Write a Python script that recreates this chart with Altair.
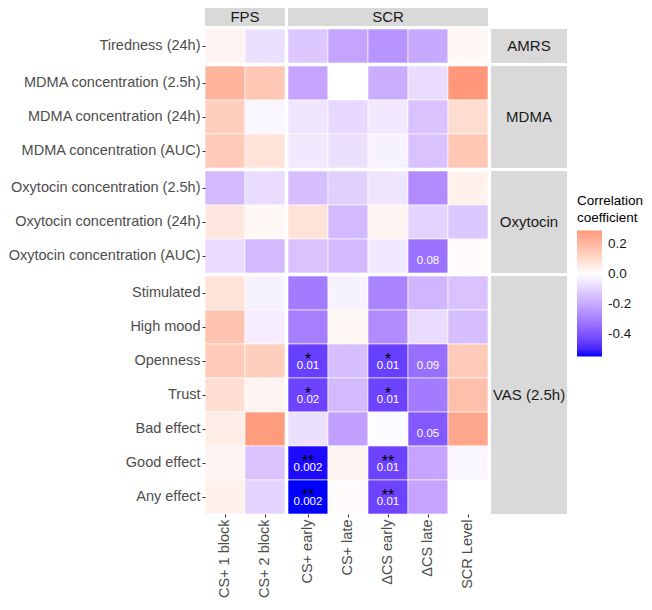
import altair as alt
import pandas as pd

# ---------------- data ----------------
ROW_GROUPS = ["AMRS", "MDMA", "Oxytocin", "VAS (2.5h)"]
AMRS_ROWS = ["Tiredness (24h)"]
MDMA_ROWS = ["MDMA concentration (2.5h)", "MDMA concentration (24h)", "MDMA concentration (AUC)"]
OXY_ROWS = ["Oxytocin concentration (2.5h)", "Oxytocin concentration (24h)", "Oxytocin concentration (AUC)"]
VAS_ROWS = ["Stimulated", "High mood", "Openness", "Trust", "Bad effect", "Good effect", "Any effect"]

COL_GROUPS = ["FPS", "SCR"]
FPS_COLS = ["CS+ 1 block", "CS+ 2 block"]
SCR_COLS = ["CS+ early", "CS+ late", "ΔCS early", "ΔCS late", "SCR Level"]

# values per row, columns in order FPS_COLS + SCR_COLS
AMRS_VALUES = [[0.03, -0.07, -0.13, -0.21, -0.25, -0.20, 0.02]]
MDMA_VALUES = [
    [0.21, 0.16, -0.21, 0.00, -0.19, -0.08, 0.29],
    [0.14, -0.02, -0.06, -0.09, -0.05, -0.14, 0.10],
    [0.15, 0.08, -0.05, -0.07, -0.03, -0.14, 0.16],
]
OXY_VALUES = [
    [-0.16, -0.08, -0.15, -0.11, -0.06, -0.27, 0.04],
    [0.07, 0.02, 0.08, -0.16, 0.03, -0.10, -0.13],
    [-0.08, -0.16, -0.14, -0.16, -0.05, -0.33, 0.01],
]
VAS_VALUES = [
    [0.08, -0.03, -0.31, -0.03, -0.29, -0.17, -0.14],
    [0.17, -0.04, -0.30, 0.02, -0.27, -0.08, -0.15],
    [0.15, 0.14, -0.45, -0.15, -0.45, -0.34, 0.15],
    [0.09, 0.03, -0.44, -0.16, -0.44, -0.31, 0.18],
    [0.05, 0.28, -0.07, -0.22, -0.01, -0.39, 0.25],
    [0.03, -0.14, -0.54, 0.03, -0.44, -0.21, -0.02],
    [0.04, -0.10, -0.55, 0.01, -0.44, -0.21, 0.00],
]

ANN_ROWS = ["Oxytocin concentration (AUC)", "Openness", "Openness", "Openness", "Trust", "Trust",
            "Bad effect", "Good effect", "Good effect", "Any effect", "Any effect"]
ANN_COLS = ["ΔCS late", "CS+ early", "ΔCS early", "ΔCS late", "CS+ early", "ΔCS early",
            "ΔCS late", "CS+ early", "ΔCS early", "CS+ early", "ΔCS early"]
ANN_STARS = ["", "*", "*", "", "*", "*", "", "**", "**", "**", "**"]
ANN_P = ["0.08", "0.01", "0.01", "0.09", "0.02", "0.01", "0.05", "0.002", "0.01", "0.002", "0.01"]

LEGEND_VALUES = [-0.4, -0.2, 0.0, 0.2]

# ---------------- styling ----------------
FONT = "Liberation Sans"
CELL_W = 40
CELL_H = 34
STRIP_W = 76
STRIP_H = 18
GRAY_STRIP = "#D9D9D9"

GROUP_ROWS = [AMRS_ROWS, MDMA_ROWS, OXY_ROWS, VAS_ROWS]
GROUP_VALUES = [AMRS_VALUES, MDMA_VALUES, OXY_VALUES, VAS_VALUES]

color_scale = alt.Scale(domain=[-0.55, 0.0, 0.29], range=["#0000FF", "#FFFFFF", "#FF987A"],
                        interpolate="lab")
color_legend = alt.Legend(
    title=["Correlation", "coefficient"], orient="none", legendX=372, legendY=186,
    gradientLength=126, gradientThickness=25, values=LEGEND_VALUES,
    labelExpr="datum.value < 0 ? '-' + format(-datum.value, '.1f') : format(datum.value, '.1f')",
    titleFont=FONT, titleFontSize=13.5, titleFontWeight="normal", titleColor="#000000",
    titleLineHeight=17, titlePadding=6,
    labelFont=FONT, labelFontSize=13.5, labelColor="#1A1A1A", labelOffset=6,
    gradientStrokeWidth=0,
)

ann_lookup = {(r, c): (s, p) for r, c, s, p in zip(ANN_ROWS, ANN_COLS, ANN_STARS, ANN_P)}


def panel(rows, values, cols, col_offset, show_y, show_x):
    recs = []
    for i, r in enumerate(rows):
        for j, c in enumerate(cols):
            s, p = ann_lookup.get((r, c), ("", ""))
            recs.append({"row": r, "col": c, "value": values[i][col_offset + j], "stars": s, "p": p})
    df = pd.DataFrame(recs)
    if show_x:
        x = alt.X("col:N", sort=cols, title=None, scale=alt.Scale(paddingInner=0, paddingOuter=0),
                  axis=alt.Axis(labelAngle=-90))
    else:
        x = alt.X("col:N", sort=cols, title=None, scale=alt.Scale(paddingInner=0, paddingOuter=0),
                  axis=None)
    if show_y:
        y = alt.Y("row:N", sort=rows, title=None, scale=alt.Scale(paddingInner=0, paddingOuter=0),
                  axis=alt.Axis())
    else:
        y = alt.Y("row:N", sort=rows, title=None, scale=alt.Scale(paddingInner=0, paddingOuter=0),
                  axis=None)
    base = alt.Chart(df).encode(x=x, y=y)
    rect = base.mark_rect(stroke="white", strokeWidth=0.6).encode(
        color=alt.Color("value:Q", scale=color_scale, legend=color_legend)
    )
    stars = base.mark_text(font=FONT, fontSize=16, color="#000000", dy=-1).encode(text="stars:N")
    pvals = base.mark_text(font=FONT, fontSize=11.5, color="#FFFFFF", dy=5).encode(text="p:N")
    return alt.layer(rect, stars, pvals).properties(width=CELL_W * len(cols), height=CELL_H * len(rows))


def strip(label, width, height):
    df = pd.DataFrame({"label": [label]})
    bg = alt.Chart(df).mark_rect(color=GRAY_STRIP).encode(
        x=alt.value(0), x2=alt.value(width), y=alt.value(0), y2=alt.value(height)
    )
    txt = alt.Chart(df).mark_text(font=FONT, fontSize=15, color="#1A1A1A").encode(
        text="label:N", x=alt.value(width / 2), y=alt.value(height / 2)
    )
    return alt.layer(bg, txt).properties(width=width, height=height)


def blank(width, height):
    df = pd.DataFrame({"a": [0]})
    return alt.Chart(df).mark_rect(opacity=0).encode(
        x=alt.value(0), x2=alt.value(1), y=alt.value(0), y2=alt.value(1)
    ).properties(width=width, height=height)


cells = [
    strip(COL_GROUPS[0], CELL_W * len(FPS_COLS), STRIP_H),
    strip(COL_GROUPS[1], CELL_W * len(SCR_COLS), STRIP_H),
    blank(STRIP_W, STRIP_H),
]
n_groups = len(ROW_GROUPS)
for g in range(n_groups):
    rows = GROUP_ROWS[g]
    vals = GROUP_VALUES[g]
    last = g == n_groups - 1
    cells.append(panel(rows, vals, FPS_COLS, 0, True, last))
    cells.append(panel(rows, vals, SCR_COLS, len(FPS_COLS), False, last))
    cells.append(strip(ROW_GROUPS[g], STRIP_W, CELL_H * len(rows)))

chart = alt.ConcatChart(
    concat=cells, columns=3, spacing=3, bounds="flush", align="each"
).properties(padding=0).configure_view(stroke=None).configure_axis(
    labelFont=FONT, labelFontSize=14.5, labelColor="#4D4D4D", tickColor="#333333",
    tickSize=3, domain=False, labelPadding=2, grid=False, labelLimit=400,
)

chart.save("out.html", embed_options={"renderer": "svg", "actions": False})
